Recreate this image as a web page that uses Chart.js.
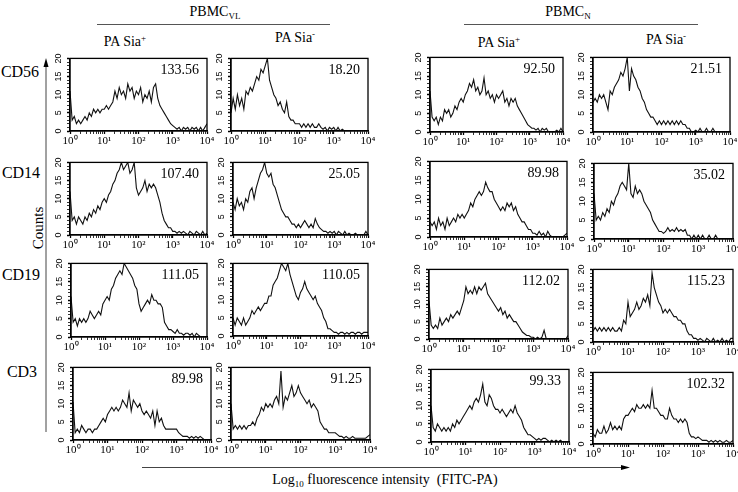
<!DOCTYPE html>
<html>
<head>
<meta charset="utf-8">
<script src="https://cdn.jsdelivr.net/npm/chart.js@4.4.1/dist/chart.umd.min.js"></script>
<style>
    body { margin: 0; width: 738px; height: 492px; background: #fff; position: relative; overflow: hidden;
           font-family: "Liberation Serif", "Times New Roman", serif; color: #000; }
    canvas { position: absolute; }
    svg { position: absolute; left: 0; top: 0; }
    .lbl { position: absolute; transform: translate(-50%, -50%); white-space: nowrap; font-size: 14px; line-height: 1; }
    .row { font-size: 16px; }
    .lbl sup { font-size: 9px; vertical-align: 5px; line-height: 0; }
    .lbl sub { font-size: 9px; vertical-align: -3px; line-height: 0; }
    .counts { transform: translate(-50%, -50%) rotate(-90deg); font-size: 15px; }
</style>
</head>
<body>
<svg width="738" height="492">
    <line x1="97" y1="24.5" x2="330" y2="24.5" stroke="#555" stroke-width="1"/>
    <line x1="464" y1="24.5" x2="698" y2="24.5" stroke="#555" stroke-width="1"/>
    <line x1="46" y1="432" x2="46" y2="66" stroke="#444" stroke-width="1"/>
    <polygon points="46,58 43.5,67 48.5,67" fill="#000"/>
    <line x1="142" y1="467.5" x2="622" y2="467.5" stroke="#444" stroke-width="1"/>
    <polygon points="630,467.5 621,465 621,470" fill="#000"/>
</svg>
<div class="lbl" style="left:215px; top:12px;">PBMC<sub>VL</sub></div>
<div class="lbl" style="left:568px; top:12px;">PBMC<sub>N</sub></div>
<div class="lbl" style="left:125px; top:42px;">PA Sia<sup>+</sup></div>
<div class="lbl" style="left:295px; top:38px;">PA Sia<sup>-</sup></div>
<div class="lbl" style="left:499px; top:43px;">PA Sia<sup>+</sup></div>
<div class="lbl" style="left:666px; top:40px;">PA Sia<sup>-</sup></div>
<div class="lbl row" style="left:20px; top:72px;">CD56</div>
<div class="lbl row" style="left:21px; top:173px;">CD14</div>
<div class="lbl row" style="left:21px; top:275px;">CD19</div>
<div class="lbl row" style="left:22px; top:372px;">CD3</div>
<div class="lbl counts" style="left:38px; top:228px;">Counts</div>
<div class="lbl" style="left:385px; top:480px;">Log<sub>10</sub> fluorescence intensity&nbsp; (FITC-PA)</div>
<script>
// histogram counts, 16 bins per decade from 10^0 to 10^4 (65 channels)
const cd56VlPos = [11, 3, 4, 2, 3, 2, 3, 4, 3, 5, 4, 6, 5, 6, 5, 6, 6, 7, 6, 7, 8, 11, 9, 12, 10, 11, 9, 13, 11, 12, 9, 11, 10, 12, 8, 10, 9, 11, 8, 12, 13, 9, 7, 6, 5, 4, 3, 2, 1.5, 1, 0.5, 1, 0, 1, 0.5, 1, 0, 1, 0.5, 1, 0, 1, 0, 1, 2];
const cd56VlNeg = [5, 9, 6, 10, 7, 9, 6, 11, 10, 12, 11, 13, 15, 14, 17, 16, 18, 20, 14, 12, 10, 9, 7, 8, 6, 5, 8, 4, 3, 3, 2, 2, 2, 1, 2, 1, 2, 1, 2, 1, 1, 2, 1, 0.5, 1, 0, 1, 0.5, 1, 0, 1, 0, 0.5, 0, 0, 0, 0, 0, 0, 0, 0, 0, 0, 0, 0];
const cd56NPos = [11, 4, 3, 4, 2, 4, 3, 6, 5, 6, 4, 5, 7, 6, 8, 9, 8, 10, 11, 13, 12, 14, 11, 12, 10, 11, 14.5, 10, 11, 9, 10, 8, 10, 9, 10, 11, 8, 9, 7, 9, 8, 9, 7, 6, 5, 4, 3, 2, 1.5, 1, 1, 0.5, 1, 0, 1, 0.5, 1, 0, 0, 0, 0, 0.5, 0, 1, 0];
const cd56NNeg = [8, 9, 8, 10, 9, 10, 8, 6, 11, 10, 12, 13, 14, 16, 15, 17, 20, 11, 17, 15, 14, 12, 11, 9, 8, 6, 5, 4, 4, 3, 2, 3, 2, 3, 2, 3, 2, 3, 2, 3, 2, 3, 2, 2, 1, 1, 0, 0, 0.5, 0, 1, 0, 0, 1, 0, 0, 1, 0, 0, 0, 0, 0, 0, 0, 0];

const cd14VlPos = [12, 4, 5, 3, 5, 4, 3, 5, 4, 6, 5, 7, 6, 8, 7, 9, 10, 9, 11, 12, 14, 15, 17, 18, 20, 18, 19, 20, 17, 18, 20, 13, 11, 12, 13, 15, 12, 14, 13, 14, 13, 11, 9, 6, 4, 3, 2, 2, 1, 1, 0.5, 1, 0.5, 1, 0.5, 0, 1, 0.5, 0, 1, 0.5, 0, 1, 0, 0.5];
const cd14VlNeg = [9, 7, 10, 8, 9, 7, 10, 9, 12, 13, 10, 13, 15, 17, 18, 20, 17, 16, 17, 14, 13, 11, 9, 7, 6, 5, 5, 4, 3, 3, 2, 3, 2, 3, 4, 3, 2, 3, 2, 4.5, 3, 2, 1.5, 1, 1, 0.5, 1, 0.5, 1, 0, 1, 0.5, 0, 1, 0, 0.5, 0, 0, 0.5, 0, 0, 0, 0, 1, 0];
const cd14NPos = [4, 3, 4, 2, 5, 3, 4, 2, 5, 3, 4, 5, 4, 6, 5, 6, 5, 6, 7, 9, 8, 10, 11, 12, 11, 12, 14.5, 13, 12, 12, 10, 9, 8, 7, 8, 7, 9, 8, 9, 7, 8, 6, 5, 4, 4, 3, 2, 2, 1, 1, 0.5, 1.5, 0.5, 1, 0, 1.5, 0.5, 0, 0, 0, 0, 0, 0, 0.5, 1];
const cd14NNeg = [12, 5, 6, 5, 7, 6, 8, 7, 10, 9, 11, 12, 14, 15, 14, 13, 20, 12, 11, 14, 12, 13, 12, 10, 9, 8, 7, 5, 4, 3, 2, 2, 1.5, 2, 3, 2, 2.5, 2, 3, 2, 2.5, 2, 2.5, 1, 1, 0, 1, 0, 1, 0, 1, 0, 0, 1, 0, 0, 1, 0, 0, 0, 0, 0, 0, 0, 0];

const cd19VlPos = [11, 4, 5, 3, 5, 4, 5, 4, 5, 7, 6, 5, 6, 7, 6, 9, 10, 11, 10, 13, 14, 16, 17, 18, 17, 20, 19, 18, 17, 16, 14, 13, 9, 7, 8, 9, 10, 9, 11.5, 10, 10, 9, 9, 8, 4, 3, 2, 2, 1.5, 1, 2, 1, 1, 0.5, 1, 1, 0.5, 1, 0, 1, 0.5, 0, 0, 0, 0];
const cd19VlNeg = [5, 3, 5, 4, 3, 5, 3, 4, 5, 7, 6, 7, 8, 7, 8, 9, 9, 11, 11, 14, 15, 16, 18, 20, 19, 18, 20, 17, 15, 13, 11, 10, 12, 13, 15, 13, 12, 11, 10, 11, 9, 8, 7, 5, 4, 2, 2, 1.5, 1, 1, 0.5, 1, 1, 0.5, 1, 0.5, 1, 1, 0.5, 1, 1, 0.5, 1, 1, 1];
const cd19NPos = [11, 4, 3, 4, 3, 6, 4, 5, 6, 5, 7, 6, 7, 8, 7, 9, 11, 15, 13, 14, 13, 15, 13, 15, 14, 15, 16, 13, 12, 11, 10, 9, 8, 9, 7, 8, 6, 7, 6, 5, 5, 4, 3, 2, 1.5, 1, 1, 0.5, 0.5, 0, 0.5, 0, 0.5, 2.5, 0, 0, 0, 0, 0, 0, 0, 0, 0, 0, 1];
const cd19NNeg = [3, 4, 3, 4, 3, 4, 3, 4, 3, 4, 3, 3, 4, 3, 6, 5, 11, 7, 8, 9, 11, 9, 10, 12, 11, 13, 10, 19, 15, 13, 11, 10, 8, 9, 8, 9, 8, 7, 7, 6, 6, 5, 5, 3, 2, 2, 1, 1, 0.5, 1, 0.5, 0, 1, 0.5, 0, 1, 0, 0.5, 0, 1, 0, 0.5, 0, 1, 1];

const cd3VlPos = [10.5, 2, 3, 2, 4, 3, 2, 3, 3, 2, 3, 3, 4, 5, 6, 5, 7, 8, 9, 8, 9, 8, 9, 11, 10, 9, 13, 8, 11, 10, 9, 10, 8, 7, 8, 7, 6, 8, 4, 8, 5, 6, 4, 3, 3, 3, 3, 3, 3, 2, 1.5, 1, 1, 1, 0.5, 1, 0.5, 1, 0.5, 1, 0.5, 0, 0, 0, 0];
const cd3VlNeg = [10, 3, 4, 3, 4, 3, 4, 3, 4, 4, 5, 4, 6, 7, 9, 8, 10, 9, 10, 9, 11, 12, 10, 19, 9, 12, 11, 13, 15, 12, 13, 15, 13, 12, 11, 10, 11, 9, 10, 9, 8, 5, 4, 3, 3, 2, 2, 2, 2, 1.5, 1, 1, 0.5, 1, 0.5, 0.5, 1, 0.5, 0.5, 0.5, 0.5, 0.5, 0.5, 1, 1.5];
const cd3NPos = [10, 4, 3, 5, 4, 3, 4, 3, 4, 3, 5, 4, 6, 5, 6, 7, 8, 9, 10, 9, 11, 12, 11, 13, 16, 11, 10, 13, 12, 10, 9, 9, 8, 9, 8, 7, 8, 9, 8, 10, 8, 7, 6, 4, 3, 2, 2, 1.5, 1, 0.5, 1, 0.5, 1, 1, 0.5, 0, 0.5, 0, 0.5, 0, 0.5, 0, 0, 0, 0];
const cd3NNeg = [3, 2, 4, 3, 3, 5, 3, 4, 6, 4, 5, 4, 5, 4, 7, 8, 8, 9, 10, 9, 11, 10, 10, 11, 10, 11, 10, 15, 10, 10, 9, 8, 8, 7, 7, 10, 8, 7, 7, 6, 7, 6, 7, 6, 3, 2, 2, 1.5, 2, 1.5, 1, 1, 1, 0.5, 1, 0.5, 1, 0.5, 1, 0.5, 0.5, 1, 0.5, 0.5, 1];

// mean fluorescence shown in each panel
const meanCD56 = ['133.56', '18.20', '92.50', '21.51'];
const meanCD14 = ['107.40', '25.05', '89.98', '35.02'];
const meanCD19 = ['111.05', '110.05', '112.02', '115.23'];
const meanCD3 = ['89.98', '91.25', '99.33', '102.32'];

const xTickLabels = ['10\u2070', '10\u00B9', '10\u00B2', '10\u00B3', '10\u2074'];
const yTickLabels = ['0', '5', '10', '15', '20'];

const rows = [
    [cd56VlPos, cd56VlNeg, cd56NPos, cd56NNeg],
    [cd14VlPos, cd14VlNeg, cd14NPos, cd14NNeg],
    [cd19VlPos, cd19VlNeg, cd19NPos, cd19NNeg],
    [cd3VlPos, cd3VlNeg, cd3NPos, cd3NNeg]
];
const rowMeans = [meanCD56, meanCD14, meanCD19, meanCD3];

// plot boxes on the page: left, top, right, bottom
const boxes = [
    [[70, 54, 207, 131], [231, 54, 368, 131], [430, 53, 563, 132], [593, 53, 730, 132]],
    [[70, 158, 207, 235], [233, 158, 368, 235], [430, 157, 567, 237], [594, 159, 733, 239]],
    [[71, 259, 207, 337], [233, 259, 368, 336], [429, 265, 568, 339], [593, 265, 733, 342]],
    [[73, 363, 211, 440], [231, 363, 370, 440], [431, 365, 569, 442], [593, 368, 733, 444]]
];

const BINS_PER_DECADE = 16;
const Y_AXIS_W = 24;
const X_AXIS_H = 22;
const PAD_T = 4;
const PAD_R = 10;

// major and minor tick positions on the log axis (in channel units)
const xTickValues = [];
for (let d = 0; d < 4; d++) {
    for (let m = 1; m <= 9; m++) xTickValues.push(BINS_PER_DECADE * (d + Math.log10(m)));
}
xTickValues.push(BINS_PER_DECADE * 4);
const yTickValues = [];
for (let v = 0; v <= 20; v++) yTickValues.push(v);

const isDecade = v => Math.abs(v / BINS_PER_DECADE - Math.round(v / BINS_PER_DECADE)) < 1e-9;

const framePlugin = {
    id: 'frame',
    afterDatasetsDraw(chart) {
        const { ctx, chartArea: a } = chart;
        ctx.save();
        ctx.strokeStyle = '#000';
        ctx.lineWidth = 1.3;
        ctx.strokeRect(a.left, a.top, a.right - a.left, a.bottom - a.top);
        ctx.restore();
    }
};

const meanPlugin = {
    id: 'meanLabel',
    afterDraw(chart, args, opts) {
        const { ctx, chartArea: a } = chart;
        ctx.save();
        ctx.font = '14px "Liberation Serif", serif';
        ctx.fillStyle = '#000';
        ctx.textAlign = 'right';
        ctx.textBaseline = 'middle';
        ctx.fillText(opts.text, a.right - 8, a.top + 12);
        ctx.restore();
    }
};

function makePanel(box, values, mean) {
    const [l, t, r, b] = box;
    const canvas = document.createElement('canvas');
    canvas.width = (r - l) + Y_AXIS_W + PAD_R;
    canvas.height = (b - t) + PAD_T + X_AXIS_H;
    canvas.style.left = (l - Y_AXIS_W) + 'px';
    canvas.style.top = (t - PAD_T) + 'px';
    document.body.appendChild(canvas);

    new Chart(canvas, {
        type: 'line',
        data: {
            datasets: [{
                data: values.map((v, i) => ({ x: i, y: v })),
                borderColor: '#111',
                borderWidth: 1.1,
                pointRadius: 0,
                tension: 0
            }]
        },
        options: {
            responsive: false,
            animation: false,
            devicePixelRatio: 1,
            layout: { padding: { left: 0, top: PAD_T, right: PAD_R, bottom: 0 } },
            plugins: {
                legend: { display: false },
                tooltip: { enabled: false },
                meanLabel: { text: mean }
            },
            scales: {
                x: {
                    type: 'linear',
                    min: 0,
                    max: BINS_PER_DECADE * 4,
                    afterBuildTicks: s => { s.ticks = xTickValues.map(v => ({ value: v })); },
                    afterFit: s => { s.height = X_AXIS_H; },
                    ticks: {
                        autoSkip: false,
                        minRotation: 0,
                        maxRotation: 0,
                        padding: 1,
                        color: '#000',
                        font: { family: '"Liberation Serif", serif', size: 11 },
                        callback: v => isDecade(v) ? xTickLabels[Math.round(v / BINS_PER_DECADE)] : ''
                    },
                    grid: {
                        drawOnChartArea: false,
                        tickLength: 3,
                        tickColor: '#000',
                        tickWidth: c => (c.tick && isDecade(c.tick.value)) ? 1.3 : 0.8
                    },
                    border: { color: '#000', width: 1.3 }
                },
                y: {
                    min: 0,
                    max: 20,
                    afterBuildTicks: s => { s.ticks = yTickValues.map(v => ({ value: v })); },
                    afterFit: s => { s.width = Y_AXIS_W; },
                    ticks: {
                        autoSkip: false,
                        minRotation: 90,
                        maxRotation: 90,
                        crossAlign: 'center',
                        padding: 3,
                        color: '#000',
                        font: { family: '"Liberation Sans", Arial, sans-serif', size: 9 },
                        callback: v => v % 5 === 0 ? yTickLabels[v / 5] : ''
                    },
                    grid: {
                        drawOnChartArea: false,
                        tickLength: 3,
                        tickColor: '#000',
                        tickWidth: c => (c.tick && c.tick.value % 5 === 0) ? 1.3 : 0.8
                    },
                    border: { color: '#000', width: 1.3 }
                }
            }
        },
        plugins: [framePlugin, meanPlugin]
    });
}

rows.forEach((series, r) => {
    series.forEach((values, c) => makePanel(boxes[r][c], values, rowMeans[r][c]));
});
</script>
</body>
</html>
